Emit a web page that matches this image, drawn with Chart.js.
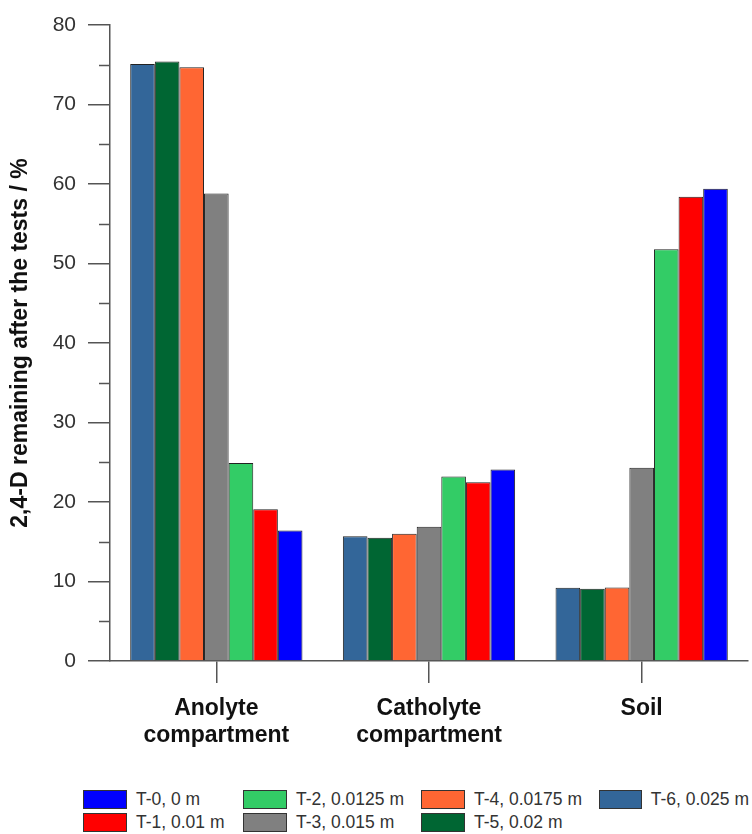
<!DOCTYPE html>
<html>
<head>
<meta charset="utf-8">
<script src="https://cdn.jsdelivr.net/npm/chart.js@4"></script>
<style>
  body { margin: 0; background: #fff; }
  #wrap { position: relative; width: 752px; height: 834px; }
  #legend {
    position: absolute; left: 83px; top: 788px;
    display: grid; grid-auto-flow: column;
    grid-template-rows: 23px 23px;
    grid-template-columns: 160px 178px 178px 150px;
    font-family: Arial, "Liberation Sans", sans-serif; font-size: 17.5px; color: #333;
  }
  .item { display: flex; align-items: center; white-space: nowrap; }
  .box { width: 44px; height: 19px; border: 1px solid #333; margin-right: 9px; box-sizing: border-box; }
</style>
</head>
<body>
<div id="wrap">
  <canvas id="barChart" width="752" height="770" style="display:block"></canvas>
  <div id="legend"></div>
</div>
<script>
const categories = [['Anolyte', 'compartment'], ['Catholyte', 'compartment'], ['Soil']];
const seriesNames = ['T-6, 0.025 m', 'T-5, 0.02 m', 'T-4, 0.0175 m', 'T-3, 0.015 m', 'T-2, 0.0125 m', 'T-1, 0.01 m', 'T-0, 0 m'];
const t6 = [75.1, 15.7, 9.2];
const t5 = [75.4, 15.5, 9.1];
const t4 = [74.7, 16.0, 9.25];
const t3 = [58.8, 16.9, 24.3];
const t2 = [24.9, 23.2, 51.8];
const t1 = [19.1, 22.5, 58.4];
const t0 = [16.4, 24.1, 59.4];
const seriesValues = [t6, t5, t4, t3, t2, t1, t0];
const seriesColors = ['#336699', '#006633', '#ff6633', '#808080', '#33cc66', '#ff0000', '#0000ff'];
const yTicks = [0, 10, 20, 30, 40, 50, 60, 70, 80];
// legend reads column by column: T-0, T-1 / T-2, T-3 / ...
const legendOrder = [6, 5, 4, 3, 2, 1, 0];

const minorTicks = {
  id: 'minorTicks',
  afterDraw(chart) {
    const y = chart.scales.y;
    const ctx = chart.ctx;
    ctx.save();
    ctx.strokeStyle = '#555';
    ctx.lineWidth = 1.5;
    for (let i = 0; i < yTicks.length - 1; i++) {
      const v = (yTicks[i] + yTicks[i + 1]) / 2;
      const py = Math.round(y.getPixelForValue(v)) + 0.5;
      ctx.beginPath();
      ctx.moveTo(y.right - 11, py);
      ctx.lineTo(y.right, py);
      ctx.stroke();
    }
    ctx.restore();
  }
};

function renderBarChart() {
  const ctx = document.getElementById('barChart');
  new Chart(ctx, {
    type: 'bar',
    data: {
      labels: categories,
      datasets: seriesNames.map((name, i) => ({
        label: name,
        data: seriesValues[i],
        backgroundColor: seriesColors[i],
        borderColor: '#222',
        borderWidth: 1,
        barPercentage: 1,
        categoryPercentage: 0.81
      }))
    },
    options: {
      responsive: false,
      animation: false,
      layout: { padding: { top: 25, right: 4, left: 0, bottom: 0 } },
      plugins: { legend: { display: false }, tooltip: { enabled: false } },
      scales: {
        x: {
          offset: true,
          grid: { offset: false, drawOnChartArea: false, tickLength: 22, color: '#555', lineWidth: 1.5 },
          border: { color: '#555', width: 1.5 },
          ticks: {
            color: '#111', padding: 12,
            font: { family: 'Arial, "Liberation Sans", sans-serif', size: 23, weight: 'bold', lineHeight: 1.17 }
          },
          afterFit(scale) { scale.height = 109; }
        },
        y: {
          min: 0, max: 80,
          grid: { drawOnChartArea: false, tickLength: 22, color: '#555', lineWidth: 1.5 },
          border: { color: '#555', width: 1.5 },
          ticks: {
            stepSize: 10, color: '#333', padding: 12,
            font: { family: 'Arial, "Liberation Sans", sans-serif', size: 21 }
          },
          title: {
            display: true,
            text: '2,4-D remaining after the tests / %',
            color: '#111',
            padding: { top: 7, bottom: 0 },
            font: { family: 'Arial, "Liberation Sans", sans-serif', size: 23, weight: 'bold' }
          },
          afterFit(scale) { scale.width = 110; }
        }
      }
    },
    plugins: [minorTicks]
  });

  const legend = document.getElementById('legend');
  legendOrder.forEach(i => {
    const item = document.createElement('div');
    item.className = 'item';
    item.innerHTML = '<span class="box" style="background:' + seriesColors[i] + '"></span>' + seriesNames[i];
    legend.appendChild(item);
  });
}

renderBarChart();
</script>
</body>
</html>
